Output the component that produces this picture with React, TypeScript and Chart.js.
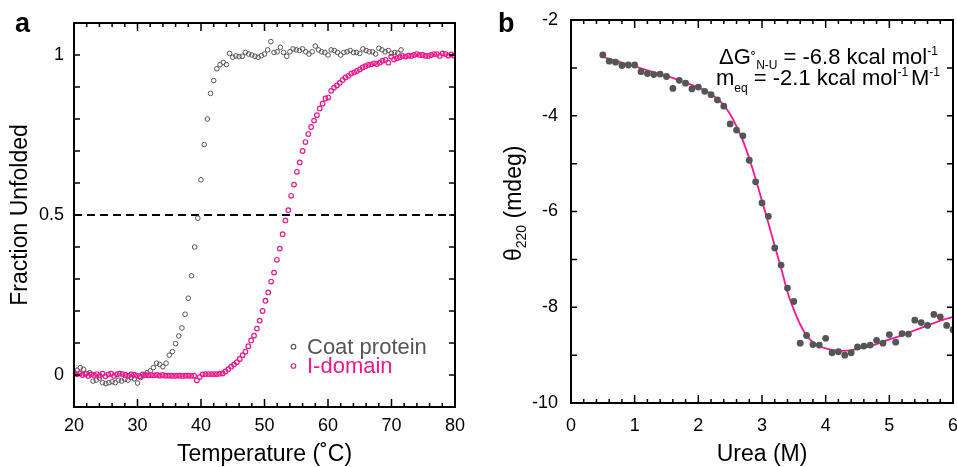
import React, { useEffect, useRef } from "react";
import { Chart, registerables } from "chart.js";

Chart.register(...registerables);

const FONT = "'Liberation Sans', Arial, Helvetica, sans-serif";
const GRAY = "#555555";
const PINK = "#f0168c";
const FIT_PINK = "#ff1493";

// ---------- Panel a : thermal melting ----------
const coatTemp = [
  20, 20.5, 21, 21.5, 22, 22.5, 23, 23.5, 24, 24.5,
  25, 25.5, 26, 26.5, 27, 27.5, 28, 28.5, 29, 29.5,
  30, 30.5, 31, 31.5, 32, 32.5, 33, 33.5, 34, 34.5,
  35, 35.5, 36, 36.5, 37, 37.5, 38, 38.5, 39, 39.5,
  40, 40.5, 41, 41.5, 42, 42.5, 43, 43.5, 44, 44.5,
  45, 45.5, 46, 46.5, 47, 47.5, 48, 48.5, 49, 49.5,
  50, 50.5, 51, 51.5, 52, 52.5, 53, 53.5, 54, 54.5,
  55, 55.5, 56, 56.5, 57, 57.5, 58, 58.5, 59, 59.5,
  60, 60.5, 61, 61.5, 62, 62.5, 63, 63.5, 64, 64.5,
  65, 65.5, 66, 66.5, 67, 67.5, 68, 68.5, 69, 69.5,
  70, 70.5, 71, 71.5,
];
const coatFrac = [
  0.009, 0.015, 0.023, 0.018, 0.005, 0.007, -0.019, -0.016, -0.01, -0.024,
  -0.027, -0.024, -0.021, -0.024, -0.016, -0.019, -0.014, -0.016, -0.008, -0.012,
  -0.025, -0.008, -0.002, 0.007, 0.013, 0.023, 0.037, 0.033, 0.026, 0.037,
  0.062, 0.073, 0.098, 0.122, 0.147, 0.19, 0.24, 0.31, 0.4, 0.49,
  0.61, 0.72, 0.8, 0.88, 0.92, 0.957, 0.97, 0.977, 0.97, 1.005,
  0.993, 0.997, 0.995, 0.996, 1.008, 1.003, 1.0, 0.996, 0.993, 0.998,
  1.003, 1.016, 1.042, 1.008, 1.01, 1.024, 1.008, 0.996, 1.01, 1.019,
  1.016, 1.014, 1.019, 1.01, 1.003, 1.01, 1.028, 1.016, 1.01, 1.008,
  1.0, 1.016, 1.014, 1.008, 1.0, 1.008, 1.01, 1.014, 1.008, 1.008,
  1.005, 1.019, 1.014, 1.01, 1.01, 1.003, 1.021, 1.016, 1.01, 1.014,
  1.005, 1.008, 1.006, 1.016,
];
const idomTemp = [
  20, 20.45, 20.9, 21.35, 21.8, 22.25, 22.7, 23.15, 23.6, 24.05,
  24.5, 24.95, 25.4, 25.85, 26.3, 26.75, 27.2, 27.65, 28.1, 28.55,
  29, 29.45, 29.9, 30.35, 30.8, 31.25, 31.7, 32.15, 32.6, 33.05,
  33.5, 33.95, 34.4, 34.85, 35.3, 35.75, 36.2, 36.65, 37.1, 37.55,
  38, 38.45, 38.9, 39.35, 39.8, 40.25, 40.7, 41.15, 41.6, 42.05,
  42.5, 42.95, 43.4, 43.85, 44.3, 44.75, 45.2, 45.65, 46.1, 46.55,
  47, 47.45, 47.9, 48.35, 48.8, 49.25, 49.7, 50.15, 50.6, 51.05,
  51.5, 51.95, 52.4, 52.85, 53.3, 53.75, 54.2, 54.65, 55.1, 55.55,
  56, 56.45, 56.9, 57.35, 57.8, 58.25, 58.7, 59.15, 59.6, 60.05,
  60.5, 60.95, 61.4, 61.85, 62.3, 62.75, 63.2, 63.65, 64.1, 64.55,
  65, 65.45, 65.9, 66.35, 66.8, 67.25, 67.7, 68.15, 68.6, 69.05,
  69.5, 69.95, 70.4, 70.85, 71.3, 71.75, 72.2, 72.65, 73.1, 73.55,
  74, 74.45, 74.9, 75.35, 75.8, 76.25, 76.7, 77.15, 77.6, 78.05,
  78.5, 78.95, 79.4, 79.85,
];
const idomFrac = [
  0.004, 0.002, 0.005, 0.0, 0.003, -0.003, 0.002, 0.0, 0.003, -0.002,
  0.004, -0.004, 0.002, 0.004, -0.003, 0.002, 0.004, 0.003, 0.0, -0.002,
  0.002, 0.001, -0.002, -0.004, 0.002, 0.0, -0.001, 0.0, -0.001, 0.0,
  -0.002, 0.0, -0.002, -0.002, -0.002, -0.003, -0.002, -0.002, -0.003, -0.002,
  -0.002, -0.003, -0.002, -0.017, -0.006, 0.002, 0.003, 0.003, 0.003, 0.003,
  0.003, 0.004, 0.005, 0.011, 0.018, 0.026, 0.033, 0.04, 0.05, 0.062,
  0.073, 0.09, 0.108, 0.123, 0.145, 0.17, 0.2, 0.232, 0.258, 0.292,
  0.32, 0.36, 0.395, 0.44, 0.483, 0.515, 0.56, 0.595, 0.635, 0.664,
  0.7, 0.728, 0.753, 0.775, 0.795, 0.812, 0.833, 0.848, 0.864, 0.867,
  0.888, 0.898, 0.905, 0.913, 0.922, 0.93, 0.935, 0.942, 0.946, 0.95,
  0.955, 0.961, 0.965, 0.969, 0.971, 0.974, 0.972, 0.976, 0.982, 0.985,
  0.976, 0.995, 0.986, 0.99, 0.993, 0.997, 0.995, 0.998, 0.997, 1.0,
  1.003, 1.0, 1.0, 0.997, 0.997, 1.0, 1.003, 1.003, 0.997, 1.005,
  1.003, 0.998, 1.002, 0.998,
];
const halfLevel = 0.5;
const tempTicks = [20, 30, 40, 50, 60, 70, 80];
const fracTicks = [0, 0.5, 1];

// ---------- Panel b : urea denaturation ----------
const ureaConc = [
  0.5, 0.6, 0.7, 0.8, 0.9, 1.0, 1.1, 1.2, 1.3, 1.4,
  1.5, 1.6, 1.7, 1.8, 1.9, 2.0, 2.1, 2.2, 2.3, 2.4,
  2.5, 2.6, 2.7, 2.8, 2.9, 3.0, 3.1, 3.2, 3.3, 3.4,
  3.5, 3.6, 3.7, 3.8, 3.9, 4.0, 4.1, 4.2, 4.3, 4.4,
  4.5, 4.6, 4.7, 4.8, 4.9, 5.0, 5.1, 5.2, 5.3, 5.4,
  5.5, 5.6, 5.7, 5.8, 5.9, 6.0,
];
const theta220 = [
  -2.73, -2.86, -2.88, -2.95, -2.94, -2.94, -3.08, -3.12, -3.14, -3.13,
  -3.18, -3.43, -3.26, -3.32, -3.44, -3.4, -3.49, -3.56, -3.67, -3.8,
  -4.17, -4.3, -4.42, -4.93, -5.38, -5.82, -6.1, -6.76, -7.12, -7.6,
  -7.88, -8.75, -8.59, -8.78, -8.79, -8.65, -8.95, -8.93, -9.0, -8.95,
  -8.83, -8.81, -8.79, -8.69, -8.75, -8.57, -8.73, -8.55, -8.56, -8.27,
  -8.32, -8.38, -8.15, -8.2, -8.38, -8.47,
];
const fitTheta = [
  -2.77, -2.81, -2.85, -2.89, -2.93, -2.97, -3.01, -3.05, -3.09, -3.13,
  -3.17, -3.21, -3.26, -3.31, -3.36, -3.41, -3.47, -3.55, -3.65, -3.78,
  -3.97, -4.22, -4.52, -4.89, -5.32, -5.78, -6.24, -6.72, -7.18, -7.68,
  -8.05, -8.36, -8.59, -8.73, -8.81, -8.86, -8.89, -8.91, -8.91, -8.9,
  -8.87, -8.84, -8.81, -8.77, -8.72, -8.67, -8.63, -8.58, -8.53, -8.48,
  -8.43, -8.38, -8.33, -8.28, -8.24, -8.2,
];
const ureaTicks = [0, 1, 2, 3, 4, 5, 6];
const thetaTicks = [-10, -8, -6, -4, -2];

type Seg = { t: string; size: number; dy: number };

function drawSegs(ctx: CanvasRenderingContext2D, segs: Seg[], x: number, y: number) {
  let cx = x;
  for (const s of segs) {
    ctx.font = `${s.size}px ${FONT}`;
    ctx.fillText(s.t, cx, y + s.dy);
    cx += ctx.measureText(s.t).width;
  }
}

function frameTicks(cfg: { xMinor: number; xMajor: number; yStep: number }) {
  return {
    id: "frameTicks",
    afterDatasetsDraw(chart: any) {
      const { ctx, chartArea: a } = chart;
      const xs = chart.scales.x;
      const ys = chart.scales.y;
      ctx.save();
      ctx.strokeStyle = "#000";
      ctx.lineWidth = 1.5;
      ctx.beginPath();
      const nx = Math.round((xs.max - xs.min) / cfg.xMinor);
      const ratio = Math.round(cfg.xMajor / cfg.xMinor);
      for (let k = 0; k <= nx; k++) {
        const px = xs.getPixelForValue(xs.min + k * cfg.xMinor);
        const len = k % ratio === 0 ? 8 : 4;
        ctx.moveTo(px, a.bottom);
        ctx.lineTo(px, a.bottom - len);
        ctx.moveTo(px, a.top);
        ctx.lineTo(px, a.top + len);
      }
      const ny = Math.round((ys.max - ys.min) / cfg.yStep);
      for (let k = 0; k <= ny; k++) {
        const py = ys.getPixelForValue(ys.min + k * cfg.yStep);
        ctx.moveTo(a.left, py);
        ctx.lineTo(a.left + 6, py);
        ctx.moveTo(a.right, py);
        ctx.lineTo(a.right - 6, py);
      }
      ctx.stroke();
      ctx.lineWidth = 2;
      ctx.strokeRect(a.left, a.top, a.right - a.left, a.bottom - a.top);
      ctx.restore();
    },
  };
}

function panelLabel(text: string, x: number, y: number) {
  return {
    id: "panelLabel",
    afterDraw(chart: any) {
      const ctx = chart.ctx;
      ctx.save();
      ctx.fillStyle = "#000";
      ctx.font = `bold 27px ${FONT}`;
      ctx.textBaseline = "alphabetic";
      ctx.textAlign = "left";
      ctx.fillText(text, x, y);
      ctx.restore();
    },
  };
}

const halfLine = {
  id: "halfLine",
  beforeDatasetsDraw(chart: any) {
    const { ctx, chartArea: a } = chart;
    const py = chart.scales.y.getPixelForValue(halfLevel);
    ctx.save();
    ctx.strokeStyle = "#000";
    ctx.lineWidth = 2;
    ctx.setLineDash([8, 5]);
    ctx.beginPath();
    ctx.moveTo(a.left, py);
    ctx.lineTo(a.right, py);
    ctx.stroke();
    ctx.restore();
  },
};

const legendA = {
  id: "legendA",
  afterDraw(chart: any) {
    const ctx = chart.ctx;
    const order = [1, 0];
    ctx.save();
    ctx.textBaseline = "alphabetic";
    ctx.textAlign = "left";
    ctx.font = `22px ${FONT}`;
    order.forEach((di, row) => {
      const ds = chart.data.datasets[di];
      const cy = 346.7 + row * 19.3;
      ctx.beginPath();
      ctx.arc(293.5, cy, 2.3, 0, Math.PI * 2);
      ctx.lineWidth = 1.1;
      ctx.strokeStyle = ds.borderColor;
      ctx.stroke();
      ctx.fillStyle = ds.borderColor;
      ctx.fillText(ds.label, 307, cy + 7);
    });
    ctx.restore();
  },
};

const annotB = {
  id: "annotB",
  afterDraw(chart: any) {
    const ctx = chart.ctx;
    ctx.save();
    ctx.fillStyle = "#000";
    ctx.textBaseline = "alphabetic";
    ctx.textAlign = "left";
    drawSegs(
      ctx,
      [
        { t: "\u0394G", size: 22, dy: 0 },
        { t: "\u02DA", size: 16, dy: 0 },
        { t: "N-U", size: 12, dy: 5 },
        { t: " = -6.8 kcal mol", size: 22, dy: 0 },
        { t: "-1", size: 12, dy: -9 },
      ],
      239,
      64
    );
    drawSegs(
      ctx,
      [
        { t: "m", size: 22, dy: 0 },
        { t: "eq", size: 12, dy: 7 },
        { t: " = -2.1 kcal mol", size: 22, dy: 0 },
        { t: "-1", size: 12, dy: -9 },
        { t: " ", size: 10, dy: 0 },
        { t: "M", size: 22, dy: 0 },
        { t: "-1", size: 12, dy: -9 },
      ],
      236,
      85
    );
    ctx.restore();
  },
};

const yTitleB = {
  id: "yTitleB",
  afterDraw(chart: any) {
    const ctx = chart.ctx;
    ctx.save();
    ctx.fillStyle = "#000";
    ctx.textBaseline = "alphabetic";
    ctx.textAlign = "left";
    ctx.translate(41, 261);
    ctx.rotate(-Math.PI / 2);
    drawSegs(
      ctx,
      [
        { t: "\u03B8", size: 23, dy: 0 },
        { t: "220", size: 14, dy: 5 },
        { t: " (mdeg)", size: 23, dy: 0 },
      ],
      0,
      0
    );
    ctx.restore();
  },
};

function tickOpts(padding: number) {
  return {
    font: { family: FONT, size: 18 },
    color: "#000",
    padding,
    maxRotation: 0,
    autoSkip: false,
    callback: (v: any) => String(v),
  };
}

function fitX(h: number) {
  return (s: any) => {
    s.height = h;
    s.paddingLeft = 0;
    s.paddingRight = 0;
  };
}

function fitY(w: number) {
  return (s: any) => {
    s.width = w;
    s.paddingTop = 0;
    s.paddingBottom = 0;
  };
}

export default function App() {
  const refA = useRef<HTMLCanvasElement | null>(null);
  const refB = useRef<HTMLCanvasElement | null>(null);

  useEffect(() => {
    const chartA = new Chart(refA.current as HTMLCanvasElement, {
      type: "scatter",
      data: {
        datasets: [
          {
            label: "I-domain",
            data: idomTemp.map((t, i) => ({ x: t, y: idomFrac[i] })),
            borderColor: PINK,
            backgroundColor: "rgba(0,0,0,0)",
            pointRadius: 2.3,
            borderWidth: 1.2,
          },
          {
            label: "Coat protein",
            data: coatTemp.map((t, i) => ({ x: t, y: coatFrac[i] })),
            borderColor: GRAY,
            backgroundColor: "rgba(0,0,0,0)",
            pointRadius: 2.3,
            borderWidth: 1,
          },
        ],
      },
      options: {
        responsive: false,
        animation: false,
        events: [],
        layout: { padding: { left: 0, right: 25, top: 23, bottom: 0 } },
        plugins: { legend: { display: false }, tooltip: { enabled: false } },
        scales: {
          x: {
            type: "linear",
            position: "bottom",
            min: 20,
            max: 80,
            afterFit: fitX(60),
            afterBuildTicks: (s: any) => {
              s.ticks = tempTicks.map((v) => ({ value: v }));
            },
            ticks: tickOpts(8),
            grid: { display: false, drawTicks: false },
            border: { display: false },
            title: {
              display: true,
              text: "Temperature (\u02DAC)",
              color: "#000",
              font: { family: FONT, size: 23, lineHeight: 1.06 },
              padding: { top: 0, bottom: 0 },
            },
          },
          y: {
            type: "linear",
            position: "left",
            min: -0.1,
            max: 1.1,
            afterFit: fitY(74),
            afterBuildTicks: (s: any) => {
              s.ticks = fracTicks.map((v) => ({ value: v }));
            },
            ticks: tickOpts(10),
            grid: { display: false, drawTicks: false },
            border: { display: false },
            title: {
              display: true,
              text: "Fraction Unfolded",
              color: "#000",
              font: { family: FONT, size: 23, lineHeight: 1.06 },
              padding: { top: 8, bottom: 0 },
            },
          },
        },
      } as any,
      plugins: [halfLine, frameTicks({ xMinor: 2, xMajor: 10, yStep: 0.1 }), legendA, panelLabel("a", 15, 32)],
    });

    const chartB = new Chart(refB.current as HTMLCanvasElement, {
      type: "scatter",
      data: {
        datasets: [
          {
            label: "Data",
            data: ureaConc.map((u, i) => ({ x: u, y: theta220[i] })),
            backgroundColor: GRAY,
            borderColor: GRAY,
            borderWidth: 0,
            pointRadius: 3.4,
          },
          {
            label: "Fit",
            data: ureaConc.map((u, i) => ({ x: u, y: fitTheta[i] })),
            showLine: true,
            borderColor: FIT_PINK,
            borderWidth: 1.8,
            pointRadius: 0,
            cubicInterpolationMode: "monotone",
          },
        ],
      },
      options: {
        responsive: false,
        animation: false,
        events: [],
        layout: { padding: { left: 0, right: 4, top: 20, bottom: 0 } },
        plugins: { legend: { display: false }, tooltip: { enabled: false } },
        scales: {
          x: {
            type: "linear",
            position: "bottom",
            min: 0,
            max: 6,
            afterFit: fitX(64),
            afterBuildTicks: (s: any) => {
              s.ticks = ureaTicks.map((v) => ({ value: v }));
            },
            ticks: tickOpts(12),
            grid: { display: false, drawTicks: false },
            border: { display: false },
            title: {
              display: true,
              text: "Urea (M)",
              color: "#000",
              font: { family: FONT, size: 23, lineHeight: 1.06 },
              padding: { top: 0, bottom: 0 },
            },
          },
          y: {
            type: "linear",
            position: "left",
            min: -10,
            max: -2,
            afterFit: fitY(91),
            afterBuildTicks: (s: any) => {
              s.ticks = thetaTicks.map((v) => ({ value: v }));
            },
            ticks: tickOpts(13),
            grid: { display: false, drawTicks: false },
            border: { display: false },
          },
        },
      } as any,
      plugins: [frameTicks({ xMinor: 0.2, xMajor: 1, yStep: 1 }), annotB, yTitleB, panelLabel("b", 18, 32)],
    });

    return () => {
      chartA.destroy();
      chartB.destroy();
    };
  }, []);

  return (
    <div style={{ position: "absolute", left: 0, top: 0, width: 957, height: 467, background: "#fff" }}>
      <canvas ref={refA} width={480} height={467} style={{ position: "absolute", left: 0, top: 0 }} />
      <canvas ref={refB} width={477} height={467} style={{ position: "absolute", left: 480, top: 0 }} />
    </div>
  );
}
